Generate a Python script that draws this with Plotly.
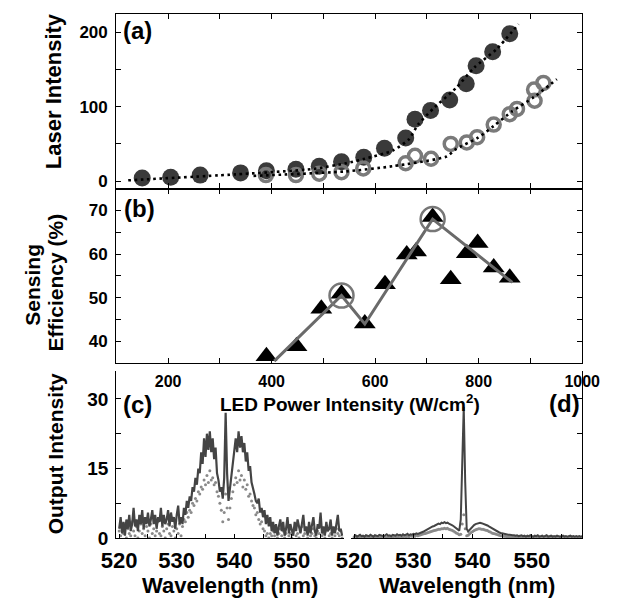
import numpy as np
import plotly.graph_objects as go

# ---------------- data ----------------
# (a) laser intensity vs LED power intensity
filled_x = [150, 205, 262, 340, 390, 447, 492, 535, 578, 618, 659, 677, 707, 744, 776, 795, 827, 860]
filled_y = [4, 5, 8, 11, 14, 16, 20, 26, 32, 44, 58, 83, 95, 109, 131, 155, 174, 198]
open_x = [389, 447, 492, 535, 577, 659, 677, 708, 746, 777, 797, 829, 860, 874, 908, 907, 925]
open_y = [8, 8, 10, 12, 17, 24, 34, 30, 50, 52, 59, 76, 90, 97, 108, 123, 132]
fitA_x = [123, 330, 477, 544, 580, 634, 665, 683, 713, 756, 792, 834, 877]
fitA_y = [1, 9, 16, 24, 30, 41, 56, 76, 98, 125, 153, 177, 211]
fitB_x = [365, 544, 634, 738, 756, 798, 829, 865, 907, 951]
fitB_y = [7, 13, 20, 33, 43, 58, 74, 94, 113, 137]

# (b) sensing efficiency
tri_x = [390, 448, 496, 535, 580, 619, 661, 679, 711, 746, 777, 798, 829, 860]
tri_y = [36.6, 38.9, 47.5, 50.9, 44.1, 53.1, 59.9, 60.6, 68.5, 54.2, 60.2, 62.5, 56.9, 54.6]
trend_x = [405, 535, 580, 711, 865]
trend_y = [35.5, 50.5, 44.0, 68.0, 53.5]
ring_x = [535, 711]
ring_y = [50.5, 68.0]

# (c) / (d) spectra, sampled every 0.25 nm from 520 nm
WL_START = 520.0
WL_STEP = 0.25
c_solid = [2.0, 4.5, 1.0, 3.5, 0.5, 4.0, 2.0, 5.0, 1.5, 3.0, 6.5, 2.5, 4.0, 1.5, 5.0, 3.0, 6.0, 2.0, 4.5, 3.0,
           5.5, 2.5, 4.0, 6.0, 3.0, 5.0, 2.0, 4.5, 3.5, 6.5, 2.5, 5.0, 3.0, 4.0, 6.0, 2.5, 5.5, 3.5, 4.5, 2.0,
           5.0, 7.0, 3.0, 4.5,
           3.0, 6.5, 5.0, 8.0, 6.5, 9.0, 8.0, 11.0, 10.0, 13.0, 11.5, 15.0, 14.0, 18.5, 16.0, 21.5,
           17.5, 22.5, 19.0, 23.0, 18.5, 21.5, 17.0, 19.5, 14.0, 12.5, 10.0, 11.0,
           8.5, 13.0, 27.0, 14.0,
           8.0, 10.5, 13.0, 16.5, 18.0, 21.5, 18.5, 23.0, 19.5, 22.0, 18.5, 20.5, 16.5, 18.5, 14.5, 15.5,
           12.0, 11.0, 9.5, 8.0, 7.5, 8.5, 5.5, 6.5, 4.5, 6.0, 3.0, 5.0, 2.5, 4.5, 1.5, 3.5,
           1.0, 3.0, 0.5, 2.5, 4.0, 1.5, 3.5, 0.5, 2.0, 4.5, 1.0, 3.0, 2.0, 0.5, 3.5, 1.5, 4.0, 2.0, 1.0, 3.0,
           5.0, 1.5, 2.5, 0.5, 3.5, 1.0, 2.5, 4.5, 1.5, 0.5, 3.0, 2.0, 5.5, 1.0, 2.5, 0.5, 3.5, 1.5, 2.0, 4.0,
           0.5, 2.5, 1.0, 3.0, 5.0, 1.5, 2.0, 0.5]
c_dotted = [1.5, 0.5, 2.5, 1.0, 3.0, 0.0, 2.0, 1.0, 0.5, 3.5, 1.5, 0.5, 2.5, 0.0, 1.5, 3.0, 1.0, 2.0, 0.5, 2.5,
            1.5, 0.0, 3.0, 1.0, 2.0, 0.5, 1.5, 3.5, 1.0, 0.5, 2.5, 1.5, 0.0, 2.0, 3.0, 1.0, 0.5, 2.5, 1.5, 0.0,
            2.0, 1.0, 3.0, 0.5,
            2.5, 4.0, 3.5, 5.5, 4.5, 6.0, 5.5, 7.5, 7.0, 8.5, 8.0, 10.0, 9.5, 11.0, 10.5, 12.5,
            11.5, 13.5, 12.0, 14.5, 12.5, 13.0, 11.5, 12.0, 10.0, 9.0, 7.5, 6.0,
            3.5, 5.5, 9.5, 6.5,
            4.0, 6.5, 8.5, 10.0, 11.5, 13.0, 12.0, 14.5, 12.5, 13.5, 11.0, 12.5, 10.5, 11.5, 9.0, 9.5,
            8.0, 7.0, 6.5, 5.0, 5.5, 4.0, 3.0, 3.5, 2.0, 1.5, 0.5, 1.0, 0.0, 1.0, 0.5, 1.5,
            0.5, 1.5, 0.0, 1.0, 2.0, 0.5, 1.5, 0.0, 1.0, 2.5, 0.5, 1.0, 0.0, 1.5, 2.0, 0.5, 1.0, 0.0, 1.5, 2.5,
            0.5, 1.0, 2.0, 0.0, 1.5, 0.5, 1.0, 2.0, 0.5, 0.0, 1.5, 1.0, 2.5, 0.5, 1.0, 0.0, 1.5, 2.0, 0.5, 1.0,
            0.0, 1.5, 0.5, 2.0, 1.0, 0.5, 1.5, 0.0]
d_solid = [0.4, 0.6, 0.3, 0.5, 0.7, 0.4, 0.5, 0.3, 0.6, 0.5, 0.4, 0.7, 0.5, 0.3, 0.6, 0.5, 0.4, 0.7, 0.6, 0.5,
           0.4, 0.6, 0.8, 0.5, 0.6, 0.4, 0.7, 0.6, 0.5, 0.8, 0.6, 0.7, 0.5, 0.8, 0.6, 0.7, 0.9, 0.6, 0.8, 0.7,
           0.9, 0.8, 1.0, 0.9,
           1.0, 1.1, 1.3, 1.4, 1.6, 1.8, 1.9, 2.1, 2.3, 2.5, 2.6, 2.8, 2.9, 3.1, 3.0, 3.3,
           3.2, 3.4, 3.2, 3.3, 3.1, 3.0, 2.8, 2.6, 2.3, 2.0, 1.8, 1.6,
           4.0, 16.0, 28.3, 12.0,
           2.0, 1.4, 1.8, 2.2, 2.5, 2.8, 3.0, 3.1, 3.2, 3.3, 3.2, 3.1, 3.0, 2.8, 2.7, 2.5,
           2.3, 2.1, 1.9, 1.7, 1.5, 1.4, 1.2, 1.1, 1.0, 0.9, 0.8, 0.8, 0.7, 0.7, 0.6, 0.6,
           0.6, 0.5, 0.6, 0.4, 0.5, 0.6, 0.4, 0.5, 0.3, 0.5, 0.4, 0.6, 0.4, 0.3, 0.5, 0.4, 0.6, 0.3, 0.4, 0.5,
           0.3, 0.4, 0.6, 0.3, 0.4, 0.5, 0.3, 0.4, 0.3, 0.5, 0.4, 0.3, 0.4, 0.5, 0.3, 0.4, 0.3, 0.4, 0.5, 0.3,
           0.4, 0.3, 0.4, 0.3, 0.4, 0.3, 0.4]
d_dotted = [0.2, 0.1, 0.3, 0.2, 0.1, 0.3, 0.2, 0.2, 0.1, 0.3, 0.2, 0.3, 0.1, 0.2, 0.3, 0.2, 0.1, 0.3, 0.2, 0.2,
            0.3, 0.2, 0.1, 0.3, 0.2, 0.3, 0.2, 0.4, 0.3, 0.2, 0.3, 0.4, 0.3, 0.2, 0.4, 0.3, 0.4, 0.3, 0.5, 0.4,
            0.5, 0.4, 0.6, 0.5,
            0.6, 0.7, 0.8, 0.9, 1.0, 1.1, 1.2, 1.3, 1.4, 1.5, 1.6, 1.7, 1.8, 1.9, 1.9, 2.0,
            2.0, 2.1, 2.0, 2.1, 1.9, 1.8, 1.7, 1.5, 1.3, 1.1, 0.9, 0.7,
            0.8, 3.0, 5.0, 2.0,
            0.5, 0.6, 0.9, 1.2, 1.4, 1.6, 1.8, 1.9, 2.0, 2.0, 1.9, 1.9, 1.8, 1.7, 1.6, 1.4,
            1.3, 1.1, 1.0, 0.9, 0.8, 0.7, 0.6, 0.5, 0.5, 0.4, 0.4, 0.3, 0.3, 0.3, 0.2, 0.3,
            0.2, 0.3, 0.2, 0.1, 0.2, 0.3, 0.2, 0.1, 0.2, 0.2, 0.1, 0.2, 0.3, 0.1, 0.2, 0.1, 0.2, 0.2, 0.1, 0.2,
            0.1, 0.2, 0.1, 0.2, 0.1, 0.1, 0.2, 0.1, 0.2, 0.1, 0.1, 0.2, 0.1, 0.1, 0.2, 0.1, 0.1, 0.2, 0.1, 0.1,
            0.2, 0.1, 0.1, 0.1, 0.2, 0.1, 0.1]

led_ticks = [200, 400, 600, 800, 1000]
wl_ticks = [520, 530, 540, 550]

def wl_grid(vals):
    return WL_START + WL_STEP * np.arange(len(vals))

# ---------------- layout helpers ----------------
W, H = 622, 604
def px(x):
    return x / W
def py(y):
    return 1 - y / H

FONT = "Liberation Sans, Arial, sans-serif"
BLACK = "#000000"

fig = go.Figure()

# (a)
fig.add_trace(go.Scatter(x=filled_x, y=filled_y, mode="markers", xaxis="x", yaxis="y",
                         marker=dict(size=17, color="#3a3a3a"), showlegend=False))
fig.add_trace(go.Scatter(x=open_x, y=open_y, mode="markers", xaxis="x", yaxis="y",
                         marker=dict(size=13, symbol="circle-open", color="#7a7a7a",
                                     line=dict(width=3.5, color="#7a7a7a")), showlegend=False))
for fx, fy in [(fitA_x, fitA_y), (fitB_x, fitB_y)]:
    fig.add_trace(go.Scatter(x=fx, y=fy, mode="lines", xaxis="x", yaxis="y",
                             line=dict(color=BLACK, width=2.6, dash="2.6px,3.6px", shape="spline", smoothing=0.6),
                             showlegend=False))

# (b)
fig.add_trace(go.Scatter(x=tri_x, y=tri_y, mode="markers", xaxis="x2", yaxis="y2",
                         marker=dict(size=19, symbol="triangle-up", color=BLACK), showlegend=False))
fig.add_trace(go.Scatter(x=trend_x, y=trend_y, mode="lines", xaxis="x2", yaxis="y2",
                         line=dict(color="#6a6a6a", width=3), showlegend=False))
fig.add_trace(go.Scatter(x=ring_x, y=ring_y, mode="markers", xaxis="x2", yaxis="y2",
                         marker=dict(size=24, symbol="circle-open", color="#777777",
                                     line=dict(width=2.5, color="#777777")), showlegend=False))

# (c)
fig.add_trace(go.Scatter(x=wl_grid(c_dotted), y=c_dotted, mode="markers", xaxis="x3", yaxis="y3",
                         marker=dict(size=3, color="#8a8a8a"), showlegend=False))
fig.add_trace(go.Scatter(x=wl_grid(c_solid), y=c_solid, mode="lines", xaxis="x3", yaxis="y3",
                         line=dict(color="#444444", width=2.2), showlegend=False))
# (d)
fig.add_trace(go.Scatter(x=wl_grid(d_dotted), y=d_dotted, mode="markers", xaxis="x4", yaxis="y4",
                         marker=dict(size=3, color="#8a8a8a"), showlegend=False))
fig.add_trace(go.Scatter(x=wl_grid(d_solid), y=d_solid, mode="lines", xaxis="x4", yaxis="y4",
                         line=dict(color="#444444", width=2), showlegend=False))

tick_font = dict(family=FONT, size=17, color=BLACK, weight="bold")
led_font = dict(family=FONT, size=16, color=BLACK, weight="bold")
wl_font = dict(family=FONT, size=22, color=BLACK, weight="bold")

common = dict(showline=True, linecolor=BLACK, linewidth=1.3, ticks="inside", tickcolor=BLACK,
              tickwidth=1.2, showgrid=False, zeroline=False)

xdom_ab = [px(107), px(599)]
fig.update_layout(
    width=W, height=H, autosize=False,
    margin=dict(l=0, r=0, t=0, b=0),
    paper_bgcolor="white", plot_bgcolor="white",
    xaxis=dict(domain=xdom_ab, range=[100, 1000], anchor="y", mirror="ticks", showticklabels=False,
               tick0=0, dtick=100, ticklen=5, **common),
    yaxis=dict(domain=[py(192), py(14)], range=[-10, 225], anchor="x", mirror="ticks",
               tickvals=[0, 100, 200], ticklen=5, tickfont=tick_font, ticklabelstandoff=4,
               minor=dict(tickvals=[50, 150], ticks="inside", ticklen=5, tickcolor=BLACK), **common),
    xaxis2=dict(domain=xdom_ab, range=[100, 1000], anchor="y2", mirror="ticks",
                tickvals=led_ticks, ticklen=5, tickfont=led_font, ticklabelstandoff=3,
                minor=dict(tickvals=[300, 500, 700, 900], ticks="inside", ticklen=5, tickcolor=BLACK),
                **common),
    yaxis2=dict(domain=[py(370), py(192)], range=[35, 75], anchor="x2", mirror="ticks",
                tickvals=[40, 50, 60, 70], ticklen=5, tickfont=tick_font, ticklabelstandoff=4,
                minor=dict(tickvals=[45, 55, 65], ticks="inside", ticklen=5, tickcolor=BLACK), **common),
    xaxis3=dict(domain=[px(107), px(347)], range=[519.5, 559], anchor="y3",
                tickvals=wl_ticks, ticklen=4, tickfont=wl_font, ticklabelstandoff=2,
                minor=dict(tickvals=[525, 535, 545, 555], ticks="inside", ticklen=4, tickcolor=BLACK),
                **common),
    yaxis3=dict(domain=[py(548), py(378)], range=[0, 36], anchor="x3",
                tickvals=[0, 15, 30], ticklen=5,
                tickfont=dict(family=FONT, size=19, color=BLACK, weight="bold"), ticklabelstandoff=3,
                minor=dict(tickvals=[7.5, 22.5], ticks="inside", ticklen=5, tickcolor=BLACK), **common),
    xaxis4=dict(domain=[px(355), px(599)], range=[519.5, 558.5], anchor="y4",
                tickvals=wl_ticks, ticklen=4, tickfont=wl_font, ticklabelstandoff=2,
                minor=dict(tickvals=[525, 535, 545, 555], ticks="inside", ticklen=4, tickcolor=BLACK),
                **common),
    yaxis4=dict(domain=[py(548), py(378)], range=[0, 36], anchor="x4", side="right",
                tickvals=[7.5, 15, 22.5, 30], ticklen=5, showticklabels=False, **common),
)

def ann(text, x, y, size, angle=0, xanchor="center"):
    fig.add_annotation(text=text, x=px(x), y=py(y), xref="paper", yref="paper", showarrow=False,
                       xanchor=xanchor, yanchor="middle", textangle=angle, borderpad=0,
                       font=dict(family=FONT, size=size, color=BLACK, weight="bold"))

ann("Laser Intensity", 40, 93, 22, -90)
ann("Sensing", 19, 290, 21, -90)
ann("Efficiency (%)", 43, 288, 21, -90)
ann("Output Intensity", 43, 462, 21, -90)
ann("LED Power Intensity (W/cm<sup>2</sup>)", 354, 410, 19)
ann("Wavelength (nm)", 227, 596, 22)
ann("Wavelength (nm)", 477, 596, 22)
ann("(a)", 113, 31, 24, xanchor="left")
ann("(b)", 114, 212, 24, xanchor="left")
ann("(c)", 113, 412, 24, xanchor="left")
ann("(d)", 598, 411, 24, xanchor="right")

fig.write_html("out.html")
